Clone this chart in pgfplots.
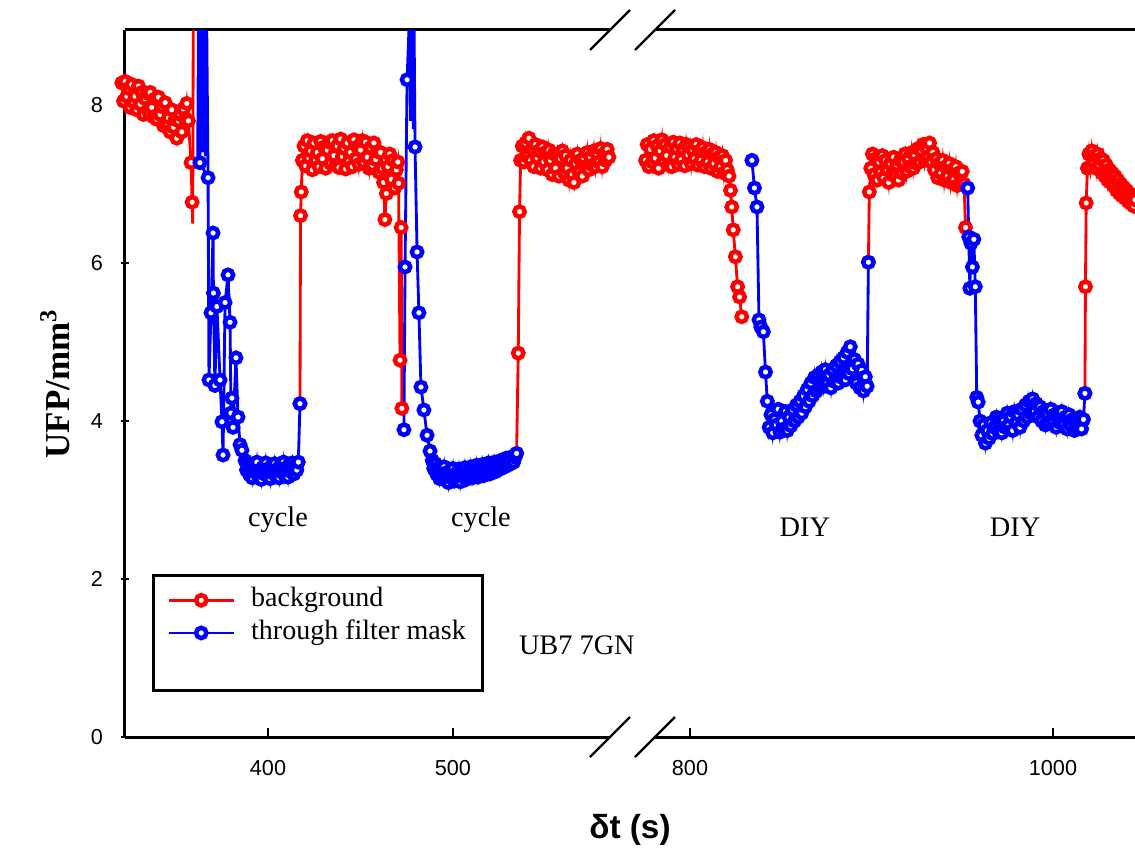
\documentclass[border=0pt]{standalone}
\usepackage{fontspec}
\setmainfont{Liberation Serif}
\newfontfamily\sansfont{Liberation Sans}
\usepackage{pgfplots}
\pgfplotsset{compat=1.18}

\pgfplotsset{
  brk/.style={scale only axis, height=212.1pt, ymin=0, ymax=8.95, clip=false,
    unbounded coords=jump,
    axis x line=box, axis line style={-, line width=0.9pt},
    tick align=inside, tick pos=left, major tick length=2.6pt,
    tick style={line width=0.8pt, black},
    ticklabel style={font=\fontsize{6.5}{7}\sansfont},
    /pgf/number format/assume math mode=true,
    /pgf/number format/set thousands separator={},
    xticklabel style={yshift=-3.5pt},
    yticklabel style={xshift=-1.8pt}},
  rd/.style={color=red, line width=0.85pt, mark=*, mark size=1.55pt,
    mark options={fill=white, line width=1.35pt}},
  bl/.style={color=blue, line width=0.85pt, mark=*, mark size=1.55pt,
    mark options={fill=white, line width=1.35pt}},
  sp/.style={line width=0.85pt, no markers, forget plot},
}
\tikzset{brkmark/.style={black, line width=0.7pt}}

\begin{document}
\begin{tikzpicture}
\useasboundingbox (-37.5pt,-36.6pt) rectangle (303pt,221.1pt);

% left part of the broken axis
\begin{axis}[brk, width=145.5pt, xmin=322.7, xmax=584.9,
  xtick={400,500}, ytick={0,2,4,6,8}, axis y line=left,
  y axis line style={-}, every outer y axis line/.append style={-},
  ylabel={\bfseries UFP/mm\textsuperscript{3}},
  ylabel style={at={(axis description cs:-0.1443,0.5)}, anchor=center,
    font=\fontsize{10.5}{12}\selectfont},
  legend style={at={(0.0557,0.0637)}, anchor=south west, draw=black,
    line width=0.8pt, inner xsep=4.2pt, inner ysep=2.9pt, row sep=0.6pt,
    font=\fontsize{8.4}{9}\selectfont,
    nodes={inner sep=0.8pt, text height=5.8pt, text depth=1.8pt},
    /tikz/every odd column/.append style={column sep=4pt}},
  legend cell align=left,
  legend image code/.code={\draw[mark repeat=2,mark phase=2,#1]
    plot coordinates {(0pt,0pt)(9.75pt,0pt)(19.5pt,0pt)};}]

\addplot[rd] coordinates {
(321.0,8.28)(321.9,8.05)(322.8,8.30)(323.7,8.11)(324.6,8.21)(325.5,7.97)(326.4,8.26)
(327.3,8.04)(328.2,8.11)(329.1,7.94)(330.0,8.24)(330.9,8.01)(331.8,8.16)(332.7,7.88)
(333.6,8.08)(334.5,8.15)(335.4,7.92)(336.3,8.16)(337.2,7.97)(338.1,7.85)(339.0,8.08)
(339.9,7.82)(340.8,8.10)(341.7,7.88)(342.6,7.98)(343.5,7.74)(344.4,8.03)(345.3,7.78)
(346.2,7.84)(347.1,7.66)(348.0,7.94)(348.9,7.72)(349.8,7.82)(350.7,7.58)(351.6,7.80)
(352.5,7.88)(353.4,7.66)(354.3,7.95)(355.2,7.83)(356.1,8.02)(357.0,7.80)(358.4,7.27)
(359.0,6.77)(380,nan)
(417.3,4.22)(417.6,6.60)(418.0,6.90)
(418.6,7.30)(419.5,7.48)(420.4,7.23)(421.3,7.55)(422.2,7.33)(423.1,7.42)(424.0,7.18)
(424.9,7.52)(425.8,7.30)(426.7,7.40)(427.6,7.22)(428.5,7.54)(429.4,7.32)(430.3,7.47)
(431.2,7.20)(432.1,7.43)(433.0,7.53)(433.9,7.26)(434.8,7.55)(435.7,7.36)(436.6,7.24)
(437.5,7.48)(438.4,7.21)(439.3,7.57)(440.2,7.35)(441.1,7.45)(442.0,7.19)(442.9,7.52)
(443.8,7.29)(444.7,7.40)(445.6,7.22)(446.5,7.56)(447.4,7.32)(448.3,7.47)(449.2,7.25)
(450.1,7.43)(451.0,7.55)(451.9,7.27)(452.8,7.53)(453.7,7.34)(454.6,7.20)(455.5,7.46)
(456.4,7.24)(457.3,7.52)(458.2,7.31)(459.1,7.41)(460.0,7.15)(460.9,7.40)(461.8,7.20)
(462.5,7.02)(463.2,6.55)(464.0,6.88)(464.9,7.22)(465.8,7.38)(466.7,7.06)(467.6,7.30)
(468.5,6.95)(469.4,7.18)(470.2,7.28)(470.6,7.01)(471.4,4.77)(472.0,6.45)(472.4,4.16)
(500,nan)
(534.4,3.59)(535.3,4.86)(536.0,6.65)(536.6,7.30)
(537.5,7.48)(538.4,7.28)(539.3,7.52)(540.2,7.35)(541.1,7.58)(542.0,7.30)(542.9,7.45)
(543.8,7.22)(544.7,7.50)(545.6,7.33)(546.5,7.42)(547.4,7.20)(548.3,7.47)(549.2,7.28)
(550.1,7.40)(551.0,7.18)(551.9,7.43)(552.8,7.30)(553.7,7.12)(554.6,7.38)(555.5,7.20)
(556.4,7.35)(557.3,7.10)(558.2,7.32)(559.1,7.42)(560.0,7.15)(560.9,7.36)(561.8,7.20)
(562.7,7.05)(563.6,7.30)(564.5,7.12)(565.4,7.02)(566.3,7.26)(567.2,7.38)(568.1,7.15)
(569.0,7.30)(569.9,7.10)(570.8,7.33)(571.7,7.22)(572.6,7.40)(573.5,7.18)(574.4,7.34)
(575.3,7.24)(576.2,7.42)(577.1,7.22)(578.0,7.38)(578.9,7.28)(579.8,7.45)(580.7,7.22)
(581.6,7.38)(582.5,7.30)(583.4,7.44)(584.3,7.34)};
\addlegendentry{background}

\addplot[bl] coordinates {
(363.2,7.27)(367.6,7.08)(368.1,4.52)(369.2,5.37)(370.3,6.38)(370.5,5.62)(371.3,4.45)
(372.4,5.45)(374.1,4.52)(375.1,3.99)(375.7,3.57)(376.8,5.50)(378.4,5.85)(379.5,5.25)
(380.0,4.10)(380.5,4.29)(381.1,3.92)(382.7,4.80)(383.8,4.05)(384.9,3.70)(385.9,3.63)
(387.6,3.50)(388.4,3.38)(389.2,3.46)(390.0,3.32)(390.8,3.42)(391.6,3.28)(392.4,3.40)
(393.2,3.35)(394.0,3.48)(394.8,3.30)(395.6,3.38)(396.4,3.26)(397.2,3.41)(398.0,3.33)
(398.8,3.47)(399.6,3.31)(400.4,3.40)(401.2,3.27)(402.0,3.43)(402.8,3.34)(403.6,3.46)
(404.4,3.30)(405.2,3.39)(406.0,3.28)(406.8,3.44)(407.6,3.35)(408.4,3.48)(409.2,3.31)
(410.0,3.41)(410.8,3.29)(411.6,3.45)(412.4,3.36)(413.2,3.47)(414.0,3.33)(414.8,3.42)
(415.6,3.38)(416.4,3.48)(417.3,4.22)(440,nan)
(473.5,3.89)(474.1,5.95)(475.2,8.32)(477,nan)
(479.5,7.47)(480.6,6.14)(481.6,5.37)(482.7,4.43)(484.3,4.14)(486.0,3.82)(487.6,3.62)
(488.8,3.50)(489.6,3.40)(490.4,3.46)(491.2,3.33)(492.0,3.41)(492.8,3.27)(493.6,3.38)
(494.4,3.30)(495.2,3.42)(496.0,3.25)(496.8,3.35)(497.6,3.22)(498.4,3.36)(499.2,3.28)
(500.0,3.40)(500.8,3.24)(501.6,3.33)(502.4,3.27)(503.2,3.39)(504.0,3.23)(504.8,3.35)
(505.6,3.29)(506.4,3.41)(507.2,3.26)(508.0,3.36)(508.8,3.30)(509.6,3.42)(510.4,3.28)
(511.2,3.38)(512.0,3.32)(512.8,3.44)(513.6,3.29)(514.4,3.39)(515.2,3.33)(516.0,3.45)
(516.8,3.31)(517.6,3.40)(518.4,3.35)(519.2,3.47)(520.0,3.33)(520.8,3.42)(521.6,3.37)
(522.4,3.48)(523.2,3.36)(524.0,3.45)(524.8,3.39)(525.6,3.50)(526.4,3.40)(527.2,3.48)
(528.0,3.42)(528.8,3.53)(529.6,3.44)(530.4,3.51)(531.2,3.46)(532.0,3.55)(532.8,3.48)
(533.6,3.54)(534.4,3.59)};
\addlegendentry{through filter mask}
\addlegendimage{empty legend}
\addlegendentry{}

% excursions above the top of the frame
\addplot[sp, red] coordinates {(359.0,6.77)(359.3,6.50)(359.6,8.95)};
\addplot[sp, blue] coordinates {(362.0,7.30)(362.4,8.95)(363.2,7.27)(363.8,8.95)(364.6,7.40)
  (365.4,8.95)(366.2,7.35)(366.9,8.95)(367.6,7.08)};
\addplot[sp, blue] coordinates {(475.2,8.32)(476.2,8.95)(477.0,7.80)(477.8,8.95)(478.6,7.70)
  (479.0,8.95)(479.5,7.47)};

\node[font=\fontsize{8.5}{10}\selectfont] at (axis cs:405.4,2.75) {cycle};
\node[font=\fontsize{8.5}{10}\selectfont] at (axis cs:515.1,2.75) {cycle};
\node[font=\fontsize{8.5}{10}\selectfont] at (axis cs:567.0,1.16) {UB7 7GN};

\draw[brkmark] ([xshift=-6pt,yshift=-6pt]rel axis cs:1,1) -- ([xshift=6pt,yshift=6pt]rel axis cs:1,1);
\draw[brkmark] ([xshift=-6pt,yshift=-6pt]rel axis cs:1,0) -- ([xshift=6pt,yshift=6pt]rel axis cs:1,0);
\end{axis}

% right part of the broken axis
\begin{axis}[brk, at={(159pt,0pt)}, width=144pt, xmin=780.7, xmax=1045.2,
  xtick={800,1000}, axis y line=none]

\addplot[rd] coordinates {
(775.5,7.30)(776.4,7.50)(777.3,7.22)(778.2,7.44)(779.1,7.28)(780.0,7.55)(780.9,7.33)
(781.8,7.48)(782.7,7.20)(783.6,7.42)(784.5,7.56)(785.4,7.30)(786.3,7.50)(787.2,7.36)
(788.1,7.24)(789.0,7.47)(789.9,7.22)(790.8,7.53)(791.7,7.34)(792.6,7.45)(793.5,7.25)
(794.4,7.52)(795.3,7.31)(796.2,7.44)(797.1,7.23)(798.0,7.50)(798.9,7.37)(799.8,7.48)
(800.7,7.26)(801.6,7.43)(802.5,7.32)(803.4,7.50)(804.3,7.24)(805.2,7.42)(806.1,7.30)
(807.0,7.46)(807.9,7.22)(808.8,7.40)(809.7,7.28)(810.6,7.44)(811.5,7.20)(812.4,7.38)
(813.3,7.26)(814.2,7.40)(815.1,7.16)(816.0,7.34)(816.9,7.22)(817.8,7.36)(818.7,7.14)
(819.6,7.30)(820.5,7.18)(821.5,7.10)(822.3,6.92)(823.0,6.71)(823.8,6.42)(825.0,6.08)
(826.2,5.70)(827.3,5.57)(828.5,5.32)(860,nan)
(898.3,6.01)(898.8,6.90)
(899.6,7.20)(900.5,7.38)(901.4,7.12)(902.3,7.32)(903.2,7.05)(904.1,7.28)(905.0,7.15)
(905.9,7.36)(906.8,7.08)(907.7,7.30)(908.6,7.18)(909.5,7.02)(910.4,7.26)(911.3,7.12)
(912.2,7.34)(913.1,7.10)(914.0,7.24)(914.9,7.05)(915.8,7.30)(916.7,7.14)(917.6,7.28)
(918.5,7.38)(919.4,7.16)(920.3,7.32)(921.2,7.22)(922.1,7.40)(923.0,7.20)(923.9,7.36)
(924.8,7.26)(925.7,7.45)(926.6,7.28)(927.5,7.42)(928.4,7.50)(929.3,7.30)(930.2,7.46)
(931.1,7.34)(932.0,7.52)(932.9,7.28)(933.8,7.40)(934.7,7.18)(935.6,7.32)(936.5,7.08)
(937.4,7.26)(938.3,7.14)(939.2,7.30)(940.1,7.05)(941.0,7.22)(941.9,7.10)(942.8,7.26)
(943.7,7.02)(944.6,7.18)(945.5,7.06)(946.4,7.22)(947.3,6.98)(948.2,7.14)(949.1,7.02)
(950.0,7.16)(951.0,7.00)(951.8,6.45)(990,nan)
(1017.6,4.35)(1017.9,5.70)(1018.3,6.76)
(1019.0,7.20)(1019.8,7.38)(1020.6,7.22)(1021.4,7.42)(1022.2,7.28)(1023.0,7.36)(1023.8,7.20)
(1024.6,7.38)(1025.4,7.25)(1026.2,7.32)(1027.0,7.14)(1027.8,7.30)(1028.6,7.10)(1029.4,7.24)
(1030.2,7.05)(1031.0,7.18)(1031.8,7.02)(1032.6,7.14)(1033.4,6.98)(1034.2,7.10)(1035.0,6.92)
(1035.8,7.05)(1036.6,6.88)(1037.4,7.00)(1038.2,6.85)(1039.0,6.96)(1039.8,6.82)(1040.6,6.92)
(1041.4,6.78)(1042.2,6.88)(1043.0,6.75)(1043.8,6.84)(1044.6,6.72)(1045.2,6.80)};

\addplot[bl] coordinates {
(834.1,7.30)(835.5,6.95)(836.9,6.71)(838.0,5.28)(839.0,5.19)(840.4,5.13)(841.6,4.62)
(842.6,4.25)(843.6,3.92)(844.6,4.08)(845.6,3.85)(846.6,4.02)(847.6,3.95)(848.6,4.15)
(849.6,3.86)(850.6,4.00)(851.6,3.90)(852.6,4.12)(853.6,3.88)(854.6,4.05)(855.6,3.94)
(856.6,4.14)(857.6,4.00)(858.6,4.20)(859.6,4.05)(860.6,4.25)(861.6,4.10)(862.6,4.32)
(863.6,4.18)(864.6,4.40)(865.6,4.25)(866.6,4.48)(867.6,4.32)(868.6,4.55)(869.6,4.38)
(870.6,4.58)(871.6,4.42)(872.6,4.62)(873.6,4.45)(874.6,4.65)(875.6,4.48)(876.6,4.58)
(877.6,4.42)(878.6,4.65)(879.6,4.50)(880.6,4.70)(881.6,4.48)(882.6,4.75)(883.6,4.55)
(884.6,4.80)(885.6,4.52)(886.6,4.87)(887.6,4.60)(888.3,4.94)(889.5,4.66)(890.6,4.78)
(891.6,4.48)(892.6,4.72)(893.6,4.42)(894.6,4.64)(895.6,4.38)(896.6,4.56)(897.6,4.44)
(898.3,6.01)(920,nan)
(953.0,6.95)(953.6,6.33)(954.2,5.68)(954.8,6.25)(955.6,5.95)(956.4,6.30)(957.2,5.70)
(958.0,4.30)(958.8,4.24)(959.8,4.00)(960.8,3.82)(961.8,3.95)(962.8,3.72)(963.8,3.88)
(964.8,3.78)(965.8,3.98)(966.8,3.84)(967.8,3.92)(968.8,4.05)(969.8,3.88)(970.8,4.02)
(971.8,3.85)(972.8,4.00)(973.8,3.92)(974.8,4.10)(975.8,3.95)(976.8,4.05)(977.8,3.88)
(978.8,4.12)(979.8,3.98)(980.8,4.08)(981.8,3.92)(982.8,4.15)(983.8,4.00)(984.8,4.20)
(985.8,4.05)(986.8,4.25)(987.8,4.10)(988.8,4.28)(989.8,4.12)(990.8,4.22)(991.8,4.05)
(992.8,4.18)(993.8,4.00)(994.8,4.12)(995.8,3.95)(996.8,4.10)(997.8,3.98)(998.8,4.15)
(999.8,4.02)(1000.8,4.08)(1001.8,3.92)(1002.8,4.10)(1003.8,3.98)(1004.8,4.12)(1005.8,3.95)
(1006.8,4.05)(1007.8,3.90)(1008.8,4.08)(1009.8,3.95)(1010.8,4.02)(1011.8,3.88)(1012.8,4.00)
(1013.8,3.92)(1014.8,4.05)(1015.8,3.90)(1016.8,4.02)(1017.6,4.35)};

\node[font=\fontsize{8.5}{10}\selectfont] at (axis cs:863.3,2.66) {DIY};
\node[font=\fontsize{8.5}{10}\selectfont] at (axis cs:979.1,2.66) {DIY};

\draw[brkmark] ([xshift=-6pt,yshift=-6pt]rel axis cs:0,1) -- ([xshift=6pt,yshift=6pt]rel axis cs:0,1);
\draw[brkmark] ([xshift=-6pt,yshift=-6pt]rel axis cs:0,0) -- ([xshift=6pt,yshift=6pt]rel axis cs:0,0);
\end{axis}

\node[font=\fontsize{10}{12}\sansfont\bfseries] at (151.5pt,-27.9pt) {δt (s)};
\end{tikzpicture}
\end{document}
